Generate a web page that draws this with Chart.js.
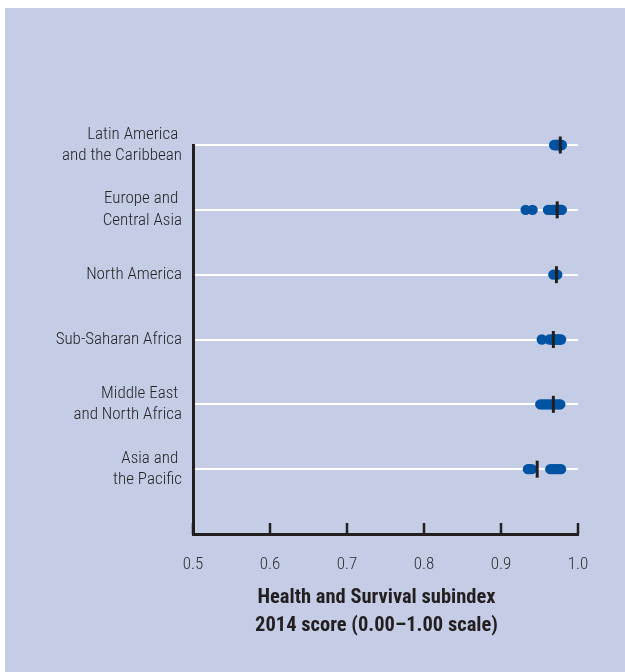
<!DOCTYPE html>
<html>
<head>
<meta charset="utf-8">
<script src="https://cdn.jsdelivr.net/npm/chart.js@4/dist/chart.umd.min.js"></script>
<style>
  html, body { margin: 0; padding: 0; background: #ffffff; }
  #wrap { width: 625px; height: 672px; position: relative; }
</style>
</head>
<body>
<div id="wrap"><canvas id="c"></canvas></div>
<script>
// Region labels (top to bottom)
const regions = [
  ["Latin America ", "and the Caribbean"],
  ["Europe and ", "Central Asia"],
  ["North America"],
  ["Sub-Saharan Africa"],
  ["Middle East ", "and North Africa"],
  ["Asia and ", "the Pacific"]
];

// Country scores per region (2014 Health and Survival subindex)
const latinAmerica = [0.969, 0.970, 0.971, 0.972, 0.973, 0.974, 0.975, 0.976, 0.977, 0.978, 0.979];
const europeCentralAsia = [0.932, 0.941, 0.961, 0.964, 0.967, 0.969, 0.970, 0.972, 0.973, 0.974, 0.975, 0.976, 0.977, 0.978, 0.979];
const northAmerica = [0.968, 0.973];
const subSaharanAfrica = [0.953, 0.963, 0.966, 0.968, 0.970, 0.972, 0.974, 0.976, 0.978];
const middleEastNorthAfrica = [0.951, 0.954, 0.957, 0.960, 0.963, 0.966, 0.969, 0.972, 0.975, 0.977];
const asiaPacific = [0.935, 0.937, 0.940, 0.964, 0.967, 0.970, 0.973, 0.976, 0.978];

// Regional average markers
const regionAverages = [0.977, 0.973, 0.972, 0.968, 0.968, 0.947];

// X axis ticks
const xTicks = [0.5, 0.6, 0.7, 0.8, 0.9, 1.0];
const xTitle = ["Health and Survival subindex", "2014 score (0.00\u20131.00 scale)"];

const regionSeries = [latinAmerica, europeCentralAsia, northAmerica, subSaharanAfrica, middleEastNorthAfrica, asiaPacific];

const dotPoints = [];
regionSeries.forEach((arr, i) => arr.forEach(v => dotPoints.push({ x: v, y: i })));
const avgPoints = regionAverages.map((v, i) => ({ x: v, y: i }));

const FONT = "'Roboto Condensed', 'Liberation Sans Narrow', 'Liberation Sans', sans-serif";
const BG = '#c5cce6';
const INK = '#231f20';

const bgPlugin = {
  id: 'bg',
  beforeDraw(chart) {
    const ctx = chart.ctx;
    ctx.save();
    ctx.fillStyle = '#ffffff';
    ctx.fillRect(0, 0, chart.width, chart.height);
    ctx.fillStyle = BG;
    ctx.fillRect(5, 8, chart.width - 5, chart.height - 8);
    ctx.restore();
  }
};

// Inward tick marks on the x axis and the x-axis title (slightly left of centre, as in the source)
const axisExtras = {
  id: 'axisExtras',
  afterDraw(chart) {
    const xs = chart.scales.x;
    const ctx = chart.ctx;
    const bottom = chart.chartArea.bottom;
    ctx.save();
    ctx.strokeStyle = INK;
    ctx.lineWidth = 2.5;
    xs.ticks.forEach(t => {
      const px = xs.getPixelForValue(t.value);
      ctx.beginPath();
      ctx.moveTo(px, bottom);
      ctx.lineTo(px, bottom - 11);
      ctx.stroke();
    });
    ctx.fillStyle = INK;
    ctx.font = "bold 20.5px " + FONT;
    ctx.textAlign = 'center';
    ctx.textBaseline = 'middle';
    const cx = (xs.left + xs.right) / 2 - 9;
    xTitle.forEach((line, i) => ctx.fillText(line, cx, bottom + 64 + i * 28));
    ctx.restore();
  }
};

new Chart(document.getElementById('c'), {
  type: 'scatter',
  data: {
    datasets: [
      {
        label: 'Regional average',
        data: avgPoints,
        pointStyle: 'line',
        rotation: 90,
        radius: 8.5,
        hoverRadius: 8.5,
        borderWidth: 3,
        borderColor: INK,
        backgroundColor: INK,
        clip: false,
        order: 0
      },
      {
        label: 'Countries',
        data: dotPoints,
        pointStyle: 'circle',
        radius: 5.2,
        hoverRadius: 5.2,
        borderWidth: 0,
        backgroundColor: '#0053a3',
        clip: false,
        order: 1
      }
    ]
  },
  options: {
    responsive: true,
    maintainAspectRatio: false,
    animation: false,
    events: [],
    layout: { padding: { left: 0, right: 47, top: 145, bottom: 0 } },
    plugins: {
      legend: { display: false },
      tooltip: { enabled: false }
    },
    scales: {
      x: {
        type: 'linear',
        min: xTicks[0],
        max: xTicks[xTicks.length - 1],
        afterBuildTicks(scale) {
          scale.ticks = xTicks.map(v => ({ value: v }));
        },
        afterFit(scale) { scale.height = 138; },
        grid: { display: false, drawTicks: false },
        border: { display: true, color: INK, width: 3 },
        ticks: {
          padding: 21,
          color: '#2e2e2e',
          font: { family: FONT, size: 17, weight: 300 },
          callback: (v) => Number(v).toFixed(1)
        },
        title: { display: false }
      },
      y: {
        type: 'linear',
        reverse: true,
        min: 0,
        max: 6,
        afterBuildTicks(scale) {
          scale.ticks = [0, 1, 2, 3, 4, 5, 6].map(v => ({ value: v }));
        },
        afterFit(scale) { scale.width = 193; },
        grid: {
          drawTicks: false,
          lineWidth: 2,
          color: (c) => (c.tick && c.tick.value < regions.length) ? '#ffffff' : 'rgba(0,0,0,0)'
        },
        border: { display: true, color: INK, width: 3 },
        ticks: {
          padding: 11,
          color: '#262626',
          font: { family: FONT, size: 17, weight: 300, lineHeight: 1.25 },
          callback: (v) => regions[v] || ''
        }
      }
    }
  },
  plugins: [bgPlugin, axisExtras]
});
</script>
</body>
</html>
